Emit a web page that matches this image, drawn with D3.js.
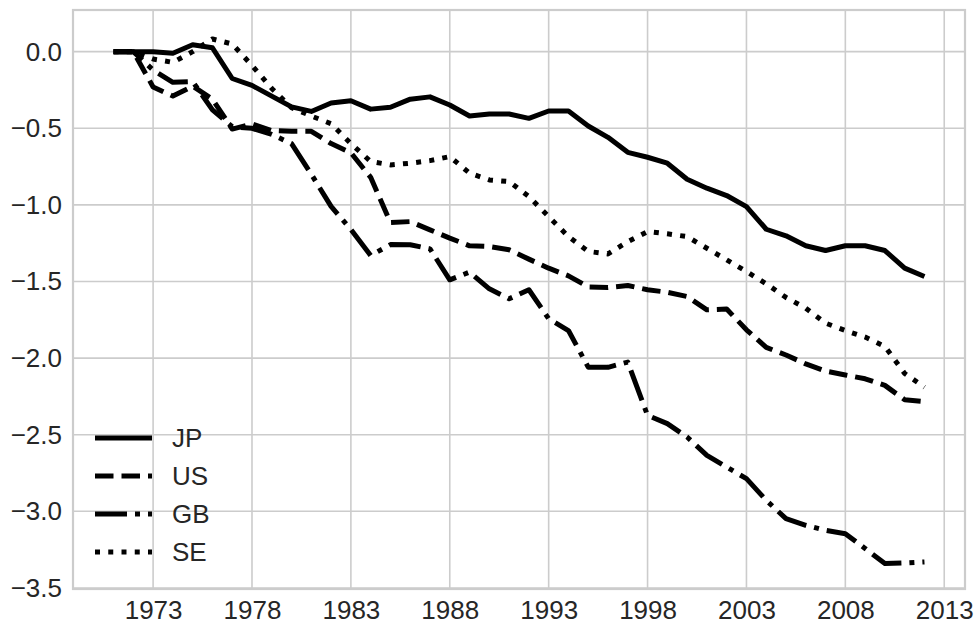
<!DOCTYPE html>
<html>
<head>
<meta charset="utf-8">
<script src="https://cdn.jsdelivr.net/npm/d3@7"></script>
<style>
    body { margin: 0; background: #fff; }
    svg text { font-family: "Liberation Sans", Arial, sans-serif; fill: #262626; }
</style>
</head>
<body>
<div id="chart"></div>
<script>
    // data
    var years = d3.range(1971, 2013);
    var countries = ["JP", "US", "GB", "SE"];
    var jp = [0, 0, 0, -0.01, 0.045, 0.025, -0.175, -0.22, -0.29, -0.36, -0.39, -0.335, -0.32, -0.375,
        -0.363, -0.31, -0.295, -0.348, -0.42, -0.407, -0.407, -0.435, -0.387, -0.387, -0.485, -0.559,
        -0.657, -0.689, -0.728, -0.833, -0.891, -0.939, -1.011, -1.159, -1.202, -1.267, -1.298, -1.267,
        -1.267, -1.298, -1.413, -1.467];
    var us = [0, 0, -0.23, -0.29, -0.225, -0.31, -0.505, -0.472, -0.515, -0.52, -0.52, -0.6, -0.66, -0.82,
        -1.115, -1.109, -1.163, -1.217, -1.267, -1.272, -1.293, -1.354, -1.413, -1.463, -1.535, -1.539,
        -1.526, -1.554, -1.57, -1.598, -1.685, -1.68, -1.815, -1.93, -1.98, -2.038, -2.085, -2.11,
        -2.135, -2.178, -2.272, -2.283];
    var gb = [0, 0, -0.12, -0.2, -0.195, -0.38, -0.49, -0.5, -0.54, -0.6, -0.8, -1.01, -1.16, -1.33,
        -1.259, -1.26, -1.287, -1.489, -1.439, -1.548, -1.613, -1.554, -1.743, -1.82, -2.059, -2.06,
        -2.026, -2.374, -2.428, -2.515, -2.635, -2.711, -2.787, -2.928, -3.048, -3.091, -3.124, -3.146,
        -3.243, -3.341, -3.337, -3.33];
    var se = [0, 0, -0.048, -0.07, 0.0, 0.083, 0.05, -0.09, -0.24, -0.365, -0.42, -0.47, -0.6, -0.717,
        -0.739, -0.728, -0.711, -0.685, -0.793, -0.837, -0.848, -0.946, -1.076, -1.207, -1.304, -1.32,
        -1.24, -1.174, -1.189, -1.207, -1.283, -1.359, -1.435, -1.515, -1.604, -1.674, -1.772, -1.82,
        -1.863, -1.924, -2.1, -2.19];
    var xTicks = [1973, 1978, 1983, 1988, 1993, 1998, 2003, 2008, 2013];
    var yTicks = [0.0, -0.5, -1.0, -1.5, -2.0, -2.5, -3.0, -3.5];

    var width = 978, height = 624;
    var margins = { top: 10, right: 13, bottom: 35, left: 73 };
    var lw = 5;
    var fontSize = "26px";
    // matplotlib-like dash patterns, scaled by line width
    var dashes = {
        JP: null,
        US: [3.7 * lw, 1.6 * lw],
        GB: [6.4 * lw, 1.6 * lw, 1 * lw, 1.6 * lw],
        SE: [1 * lw, 1.65 * lw]
    };
    var seriesValues = { JP: jp, US: us, GB: gb, SE: se };

    var svg = d3.select("#chart").append("svg")
        .attr("width", width)
        .attr("height", height);

    var x = d3.scaleLinear().domain([1968.95, 2014.05]).range([margins.left, width - margins.right]);
    var y = d3.scaleLinear().domain([-3.507, 0.272]).range([height - margins.bottom, margins.top]);

    // grid
    svg.append("g")
        .selectAll("line.vgrid")
        .data(xTicks)
        .enter().append("line")
        .attr("x1", function (d) { return x(d); })
        .attr("x2", function (d) { return x(d); })
        .attr("y1", y.range()[1])
        .attr("y2", y.range()[0])
        .attr("stroke", "#cccccc")
        .attr("stroke-width", 1.6);
    svg.append("g")
        .selectAll("line.hgrid")
        .data(yTicks)
        .enter().append("line")
        .attr("x1", x.range()[0])
        .attr("x2", x.range()[1])
        .attr("y1", function (d) { return y(d); })
        .attr("y2", function (d) { return y(d); })
        .attr("stroke", "#cccccc")
        .attr("stroke-width", 1.6);

    // frame
    svg.append("rect")
        .attr("x", x.range()[0])
        .attr("y", y.range()[1])
        .attr("width", x.range()[1] - x.range()[0])
        .attr("height", y.range()[0] - y.range()[1])
        .attr("fill", "none")
        .attr("stroke", "#cccccc")
        .attr("stroke-width", 2.2);

    // axes: labels only, no tick marks
    var xAxis = d3.axisBottom(x).tickValues(xTicks).tickSize(0).tickPadding(12).tickFormat(d3.format("d"));
    var yAxis = d3.axisLeft(y).tickValues(yTicks).tickSize(0).tickPadding(11)
        .tickFormat(function (d) { return d3.format(".1f")(d).replace("-", "\u2212"); });

    var gx = svg.append("g").attr("transform", "translate(0," + y.range()[0] + ")").call(xAxis);
    var gy = svg.append("g").attr("transform", "translate(" + x.range()[0] + ",0)").call(yAxis);
    [gx, gy].forEach(function (g) {
        g.select(".domain").remove();
        g.selectAll("text").style("font-size", fontSize).attr("fill", "#262626");
    });

    // lines
    var line = d3.line()
        .x(function (d, i) { return x(years[i]); })
        .y(function (d) { return y(d); });

    countries.forEach(function (c) {
        svg.append("path")
            .datum(seriesValues[c])
            .attr("d", line)
            .attr("fill", "none")
            .attr("stroke", "#000")
            .attr("stroke-width", lw)
            .attr("stroke-linejoin", "round")
            .attr("stroke-dasharray", dashes[c] ? dashes[c].join(",") : null);
    });

    // legend (no frame)
    var legend = svg.append("g").attr("class", "legend");
    countries.forEach(function (c, i) {
        var ly = 438 + i * 38;
        legend.append("line")
            .attr("x1", 95).attr("x2", 152)
            .attr("y1", ly).attr("y2", ly)
            .attr("stroke", "#000")
            .attr("stroke-width", lw)
            .attr("stroke-dasharray", dashes[c] ? dashes[c].join(",") : null);
        legend.append("text")
            .attr("x", 172)
            .attr("y", ly)
            .attr("dy", "0.36em")
            .style("font-size", fontSize)
            .text(c);
    });
</script>
</body>
</html>
